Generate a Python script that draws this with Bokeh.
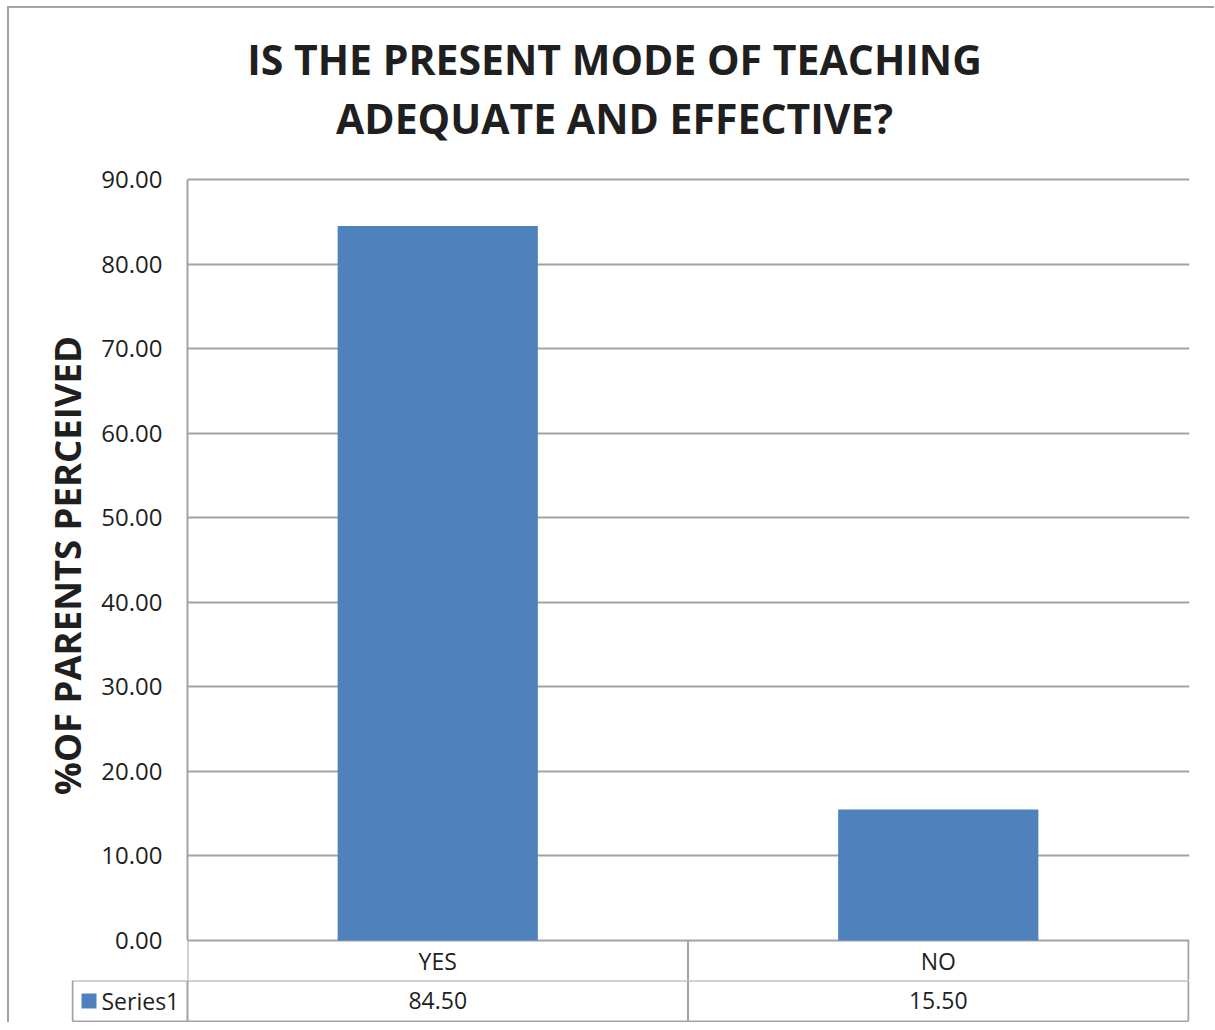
from bokeh.plotting import figure
from bokeh.layouts import column
from bokeh.models import Range1d, FixedTicker, CustomJSTickFormatter
from bokeh.core.properties import value
from bokeh.embed import file_html
from bokeh.resources import INLINE

# ---- data ----
categories = ["YES", "NO"]
values = [84.50, 15.50]
series_name = "Series1"
y_ticks = [0, 10, 20, 30, 40, 50, 60, 70, 80, 90]
title_lines = ["IS THE PRESENT MODE OF TEACHING", "ADEQUATE AND EFFECTIVE?"]
y_label = "%OF PARENTS PERCEIVED"

# ---- style ----
FONT = "Open Sans"
BAR = "#4f81bd"
LINE = "#a3a3a3"
TXT = "#1f1f1f"
W = 1205
PX = 500.5            # pixels per category column
PPU = 761 / 90        # pixels per y unit
HDR = 40 / PPU        # header row height (y units)
TOP = 29 / PPU        # blank space kept above the 90 line inside the frame
LEG = 115 / PX        # legend cell width (x units)
n = len(categories)
centers = [i + 0.5 for i in range(n)]

# ---- title figure ----
TH = 140
tf = figure(width=W, height=TH, output_backend="svg", toolbar_location=None,
            x_range=Range1d(0, W), y_range=Range1d(0, TH), min_border=0, frame_align=False)
tf.axis.visible = False
tf.grid.visible = False
tf.outline_line_color = None
tf.text(x=[605, 605], y=[TH - 50, TH - 109], text=title_lines,
        text_font=value(FONT), text_font_style="bold", text_font_size="41px",
        text_align="center", text_baseline="middle", text_color=TXT)

# ---- plot figure (plot area + category header row) ----
p = figure(width=W, height=832, output_backend="svg", toolbar_location=None,
           x_range=Range1d(0, 1002 / PX), y_range=Range1d(-HDR, 90 + TOP),
           min_border_left=178, min_border_right=25, min_border_top=2, min_border_bottom=0,
           frame_align=False)
p.vbar(x=centers, top=values, width=0.4, color=BAR, line_color=None)
p.xaxis.visible = False
p.xgrid.visible = False
p.ygrid.ticker = FixedTicker(ticks=y_ticks)
p.ygrid.grid_line_color = LINE
p.ygrid.grid_line_width = 2
p.outline_line_color = None
ax = p.yaxis[0]
ax.ticker = FixedTicker(ticks=y_ticks)
ax.bounds = (0, 90)
ax.formatter = CustomJSTickFormatter(code="return tick.toFixed(2);")
ax.major_tick_out = 0
ax.major_tick_in = 0
ax.minor_tick_out = 0
ax.minor_tick_in = 0
ax.axis_line_color = LINE
ax.axis_line_width = 2
ax.major_label_standoff = 25
ax.major_label_text_font = FONT
ax.major_label_text_font_size = "24px"
ax.major_label_text_color = TXT
ax.axis_label = y_label
ax.axis_label_text_font = FONT
ax.axis_label_text_font_style = "bold"
ax.axis_label_text_font_size = "36.5px"
ax.axis_label_text_color = TXT
ax.axis_label_standoff = 6
p.multi_line(xs=[[i, i] for i in range(0, n + 1)], ys=[[-HDR, 0] for _ in range(n + 1)],
             line_color=LINE, line_width=2)
p.text(x=centers, y=[-HDR / 2] * n, text=categories, text_font=value(FONT), text_font_size="23px",
       text_align="center", text_baseline="middle", text_color=TXT)

# ---- value row figure (legend key + values) ----
tb = figure(width=W, height=42, output_backend="svg", toolbar_location=None,
            x_range=Range1d(-116 / PX, 1002 / PX), y_range=Range1d(-0.025, 1.0),
            min_border_left=62, min_border_right=25, min_border_top=0, min_border_bottom=0,
            frame_align=False)
tb.axis.visible = False
tb.grid.visible = False
tb.outline_line_color = None
xs = [[-LEG, n], [-LEG, n], [-LEG, -LEG]] + [[i, i] for i in range(n + 1)]
ys = [[0, 0], [1, 1], [0, 1]] + [[0, 1] for _ in range(n + 1)]
tb.multi_line(xs=xs, ys=ys, line_color=LINE, line_width=2)
tb.text(x=centers, y=[0.5] * n, text=[f"{v:.2f}" for v in values], text_font=value(FONT),
        text_font_size="23px", text_align="center", text_baseline="middle", text_color=TXT)
tb.scatter(x=[-LEG + 16.5 / PX], y=[0.5], marker="square", size=15, color=BAR, line_color=None)
tb.text(x=[-LEG + 29 / PX], y=[0.5], text=[series_name], text_font=value(FONT), text_font_size="23px",
        text_align="left", text_baseline="middle", text_color=TXT)

layout = column(tf, p, tb, spacing=0,
                styles={"margin-left": "7px", "margin-top": "6px",
                        "border-left": "2px solid #a3a3a3", "border-top": "2px solid #a3a3a3"})

open("out.html", "w").write(file_html(layout, INLINE))
